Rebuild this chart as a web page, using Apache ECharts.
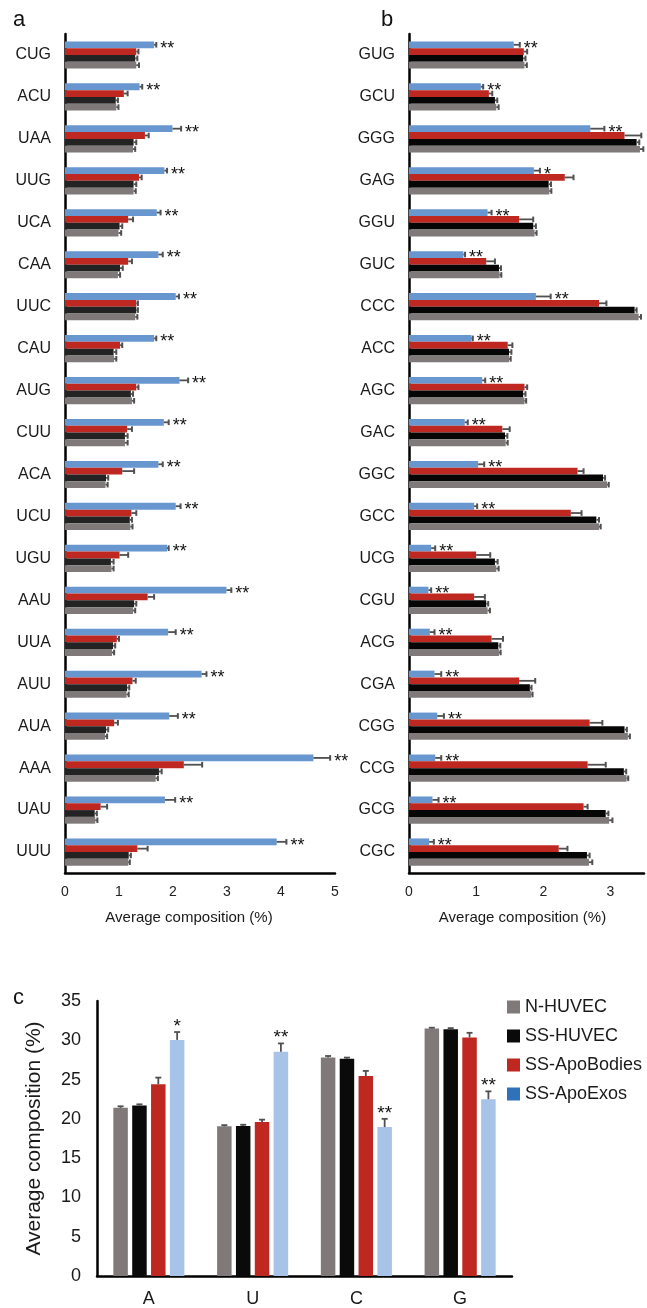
<!DOCTYPE html>
<html>
<head>
<meta charset="utf-8">
<title>Codon composition</title>
<script src="https://cdn.jsdelivr.net/npm/echarts@6/dist/echarts.min.js"></script>
<style>
  html, body { margin: 0; padding: 0; background: #fff; }
  #chart { width: 647px; height: 1308px; }
</style>
</head>
<body>
<div id="chart"></div>
<script>
// ---- panel a (top to bottom) ----
const codonsA = ['CUG', 'ACU', 'UAA', 'UUG', 'UCA', 'CAA', 'UUC', 'CAU', 'AUG', 'CUU',
  'ACA', 'UCU', 'UGU', 'AAU', 'UUA', 'AUU', 'AUA', 'AAA', 'UAU', 'UUU']
const aNormal = [1.32, 0.95, 1.26, 1.27, 0.99, 0.98, 1.30, 0.91, 1.24, 1.11,
  0.75, 1.21, 0.86, 1.26, 0.87, 1.14, 0.74, 1.68, 0.56, 1.17]
const aHuvec = [1.30, 0.94, 1.27, 1.27, 1.01, 1.02, 1.32, 0.90, 1.22, 1.11,
  0.76, 1.20, 0.85, 1.28, 0.89, 1.15, 0.76, 1.74, 0.55, 1.18]
const aBodies = [1.32, 1.09, 1.48, 1.37, 1.17, 1.17, 1.32, 1.02, 1.32, 1.15,
  1.06, 1.23, 1.01, 1.53, 0.96, 1.25, 0.91, 2.20, 0.66, 1.34]
const aExos = [1.65, 1.38, 1.99, 1.84, 1.70, 1.73, 2.05, 1.65, 2.12, 1.83,
  1.73, 2.05, 1.89, 2.99, 1.91, 2.53, 1.93, 4.60, 1.85, 3.92]
const aNormalErr = [0.05, 0.04, 0.04, 0.04, 0.05, 0.04, 0.04, 0.04, 0.04, 0.05,
  0.04, 0.04, 0.04, 0.04, 0.04, 0.04, 0.04, 0.04, 0.04, 0.03]
const aHuvecErr = [0.04, 0.04, 0.05, 0.05, 0.05, 0.05, 0.03, 0.05, 0.04, 0.05,
  0.04, 0.04, 0.05, 0.04, 0.04, 0.04, 0.04, 0.05, 0.04, 0.04]
const aBodiesErr = [0.04, 0.07, 0.07, 0.05, 0.09, 0.07, 0.03, 0.04, 0.04, 0.09,
  0.22, 0.09, 0.16, 0.12, 0.04, 0.06, 0.07, 0.34, 0.12, 0.19]
const aExosErr = [0.04, 0.05, 0.16, 0.05, 0.07, 0.08, 0.06, 0.04, 0.16, 0.09,
  0.08, 0.09, 0.03, 0.09, 0.14, 0.09, 0.16, 0.31, 0.19, 0.18]
const aStars = codonsA.map(() => '**')

// ---- panel b (top to bottom) ----
const codonsB = ['GUG', 'GCU', 'GGG', 'GAG', 'GGU', 'GUC', 'CCC', 'ACC', 'AGC', 'GAC',
  'GGC', 'GCC', 'UCG', 'CGU', 'ACG', 'CGA', 'CGG', 'CCG', 'GCG', 'CGC']
const bNormal = [1.72, 1.30, 3.44, 2.09, 1.87, 1.35, 3.42, 1.49, 1.72, 1.44,
  2.95, 2.83, 1.30, 1.17, 1.34, 1.82, 3.26, 3.24, 2.98, 2.68]
const bHuvec = [1.70, 1.28, 3.39, 2.08, 1.85, 1.34, 3.36, 1.49, 1.70, 1.43,
  2.89, 2.79, 1.28, 1.15, 1.33, 1.80, 3.21, 3.20, 2.93, 2.65]
const bBodies = [1.71, 1.19, 3.21, 2.32, 1.64, 1.15, 2.83, 1.47, 1.72, 1.39,
  2.51, 2.41, 1.00, 0.97, 1.23, 1.64, 2.69, 2.66, 2.60, 2.23]
const bExos = [1.56, 1.07, 2.70, 1.86, 1.17, 0.81, 1.89, 0.93, 1.09, 0.83,
  1.03, 0.97, 0.33, 0.29, 0.31, 0.38, 0.42, 0.39, 0.35, 0.30]
const bNormalErr = [0.035, 0.035, 0.05, 0.03, 0.03, 0.025, 0.035, 0.025, 0.025, 0.03,
  0.025, 0.025, 0.035, 0.035, 0.025, 0.02, 0.03, 0.025, 0.05, 0.05]
const bHuvecErr = [0.035, 0.035, 0.04, 0.035, 0.04, 0.03, 0.03, 0.035, 0.035, 0.035,
  0.03, 0.04, 0.04, 0.03, 0.03, 0.025, 0.035, 0.035, 0.04, 0.04]
const bBodiesErr = [0.05, 0.05, 0.25, 0.13, 0.21, 0.13, 0.11, 0.07, 0.04, 0.11,
  0.09, 0.16, 0.21, 0.16, 0.17, 0.24, 0.19, 0.27, 0.06, 0.13]
const bExosErr = [0.09, 0.035, 0.21, 0.09, 0.06, 0.025, 0.22, 0.02, 0.045, 0.045,
  0.09, 0.045, 0.06, 0.04, 0.07, 0.10, 0.10, 0.09, 0.09, 0.07]
const bStars = ['**', '**', '**', '*', '**', '**', '**', '**', '**', '**',
  '**', '**', '**', '**', '**', '**', '**', '**', '**', '**']

// ---- panel c ----
const bases = ['A', 'U', 'C', 'G']
const cNormal = [21.4, 19.05, 27.8, 31.5]
const cHuvec = [21.7, 19.1, 27.65, 31.4]
const cBodies = [24.4, 19.6, 25.45, 30.35]
const cExos = [30.05, 28.55, 18.95, 22.5]
const cNormalErr = [0.2, 0.15, 0.2, 0.1]
const cHuvecErr = [0.15, 0.15, 0.15, 0.15]
const cBodiesErr = [0.85, 0.3, 0.65, 0.6]
const cExosErr = [1.0, 1.05, 1.05, 1.0]
const cStars = ['*', '**', '**', '**']

const names = ['N-HUVEC', 'SS-HUVEC', 'SS-ApoBodies', 'SS-ApoExos']

const FONT = '"Liberation Sans", Arial, sans-serif'
const GRAY = '#7f7a79'
const RED = '#be2820'
const BLUE = '#6896cf'
const LIGHTBLUE = '#a8c3e8'
const ERR = '#505050'
const BAR_H = 6.8   // horizontal bar thickness (a, b)
const BAR_W = 14.5  // vertical bar width (c)
const GAP_W = BAR_W * 0.3

// error bar (+ stars) for horizontal bars; slot = position from top in the group
function hErr(gi, vals, errs, slot, stars) {
  return {
    type: 'custom',
    xAxisIndex: gi,
    yAxisIndex: gi,
    z: 5,
    clip: false,
    silent: true,
    data: vals.map((v, i) => [v, i, errs[i]]),
    encode: { x: 0, y: 1 },
    renderItem(params, api) {
      const v = api.value(0)
      const i = api.value(1)
      const e = api.value(2)
      const p0 = api.coord([v, i])
      const p1 = api.coord([v + e, i])
      const yc = p0[1] + (slot - 1.5) * BAR_H
      const kids = [
        { type: 'line', shape: { x1: p0[0], y1: yc, x2: p1[0], y2: yc }, style: { stroke: ERR, lineWidth: 1.8 } },
        { type: 'line', shape: { x1: p1[0], y1: yc - BAR_H / 2 + 0.6, x2: p1[0], y2: yc + BAR_H / 2 - 0.6 }, style: { stroke: ERR, lineWidth: 2 } }
      ]
      if (stars) {
        kids.push({
          type: 'text',
          style: { text: stars[params.dataIndex], x: p1[0] + 4, y: yc + 4, verticalAlign: 'middle', font: '18px ' + FONT, fill: '#111' }
        })
      }
      return { type: 'group', children: kids }
    }
  }
}

// error bar (+ stars) for vertical bars in c; slot = position from left
function vErr(vals, errs, slot, stars) {
  return {
    type: 'custom',
    xAxisIndex: 2,
    yAxisIndex: 2,
    z: 5,
    clip: false,
    silent: true,
    data: vals.map((v, i) => [i, v, errs[i]]),
    encode: { x: 0, y: 1 },
    renderItem(params, api) {
      const i = api.value(0)
      const v = api.value(1)
      const e = api.value(2)
      const p0 = api.coord([i, v])
      const p1 = api.coord([i, v + e])
      const total = 4 * BAR_W + 3 * GAP_W
      const xc = p0[0] - total / 2 + slot * (BAR_W + GAP_W) + BAR_W / 2
      const kids = [
        { type: 'line', shape: { x1: xc, y1: p0[1], x2: xc, y2: p1[1] }, style: { stroke: ERR, lineWidth: 1.8 } },
        { type: 'line', shape: { x1: xc - 3, y1: p1[1], x2: xc + 3, y2: p1[1] }, style: { stroke: ERR, lineWidth: 1.8 } }
      ]
      if (stars) {
        kids.push({
          type: 'text',
          style: { text: stars[params.dataIndex], x: xc, y: p1[1] - 5.5, align: 'center', verticalAlign: 'middle', font: '19px ' + FONT, fill: '#111' }
        })
      }
      return { type: 'group', children: kids }
    }
  }
}

function hBar(gi, name, vals, color) {
  return {
    type: 'bar', name: name, xAxisIndex: gi, yAxisIndex: gi,
    data: vals, barWidth: BAR_H, barGap: '0%',
    itemStyle: { color: color }
  }
}

function vBar(name, vals, color) {
  return {
    type: 'bar', name: name, xAxisIndex: 2, yAxisIndex: 2,
    data: vals, barWidth: BAR_W, barGap: '30%',
    itemStyle: { color: color }
  }
}

function codonYAxis(gi, data) {
  return {
    type: 'category', gridIndex: gi, data: data, inverse: true,
    axisLine: { lineStyle: { color: '#000', width: 2.5 } },
    axisTick: { show: false },
    axisLabel: { fontSize: 16, color: '#1a1a1a', margin: 14, fontFamily: FONT }
  }
}

function compXAxis(gi, max, pad) {
  return {
    type: 'value', gridIndex: gi, min: 0, max: max, interval: 1,
    splitLine: { show: false },
    axisLine: { show: true, onZero: false, lineStyle: { color: '#000', width: 2.5 } },
    axisTick: { show: false },
    axisLabel: {
      fontSize: 14, color: '#222', margin: 12, fontFamily: FONT,
      formatter: (v) => (Number.isInteger(v) ? String(v) : '')
    },
    name: 'Average composition (%)',
    nameLocation: 'middle',
    nameGap: 37,
    nameTextStyle: { fontSize: 15, color: '#1a1a1a', fontFamily: FONT, padding: [0, pad, 0, 0] }
  }
}

const chart = echarts.init(document.getElementById('chart'), null, { renderer: 'canvas' })

chart.setOption({
  animation: false,
  backgroundColor: '#fff',
  textStyle: { fontFamily: FONT },
  title: [
    { text: 'a', left: 8, top: 4, textStyle: { fontSize: 22, fontWeight: 'normal', color: '#111', fontFamily: FONT } },
    { text: 'b', left: 376, top: 4, textStyle: { fontSize: 22, fontWeight: 'normal', color: '#111', fontFamily: FONT } },
    { text: 'c', left: 8, top: 982, textStyle: { fontSize: 22, fontWeight: 'normal', color: '#111', fontFamily: FONT } }
  ],
  legend: {
    orient: 'vertical',
    left: 507,
    top: 998,
    padding: 0,
    icon: 'rect',
    itemWidth: 13,
    itemHeight: 13,
    itemGap: 11,
    textStyle: { fontSize: 18, color: '#1a1a1a', fontFamily: FONT },
    data: [
      { name: 'N-HUVEC', itemStyle: { color: GRAY } },
      { name: 'SS-HUVEC', itemStyle: { color: '#0a0a0a' } },
      { name: 'SS-ApoBodies', itemStyle: { color: RED } },
      { name: 'SS-ApoExos', itemStyle: { color: '#2f72ba' } }
    ]
  },
  grid: [
    { left: 65, top: 34, width: 270, height: 839 },
    { left: 409, top: 34, width: 235, height: 839 },
    { left: 97, top: 1001, width: 415, height: 276 }
  ],
  xAxis: [
    compXAxis(0, 5, 22),
    compXAxis(1, 3.5, 8),
    {
      type: 'category', gridIndex: 2, data: bases,
      axisLine: { lineStyle: { color: '#000', width: 2.5 } },
      axisTick: { show: false },
      axisLabel: { fontSize: 18, color: '#1a1a1a', margin: 14, fontFamily: FONT }
    }
  ],
  yAxis: [
    codonYAxis(0, codonsA),
    codonYAxis(1, codonsB),
    {
      type: 'value', gridIndex: 2, min: 0, max: 35, interval: 5,
      splitLine: { show: false },
      axisLine: { show: true, lineStyle: { color: '#000', width: 2.5 } },
      axisTick: { show: false },
      axisLabel: { fontSize: 18, color: '#1a1a1a', margin: 16, fontFamily: FONT },
      name: 'Average composition (%)',
      nameLocation: 'middle',
      nameGap: 52,
      nameTextStyle: { fontSize: 21, color: '#1a1a1a', fontFamily: FONT }
    }
  ],
  series: [
    // panel a: bars listed top-to-bottom within each codon
    hBar(0, names[3], aExos, BLUE),
    hBar(0, names[2], aBodies, RED),
    hBar(0, names[1], aHuvec, '#232323'),
    hBar(0, names[0], aNormal, GRAY),
    hErr(0, aExos, aExosErr, 0, aStars),
    hErr(0, aBodies, aBodiesErr, 1),
    hErr(0, aHuvec, aHuvecErr, 2),
    hErr(0, aNormal, aNormalErr, 3),
    // panel b
    hBar(1, names[3], bExos, BLUE),
    hBar(1, names[2], bBodies, RED),
    hBar(1, names[1], bHuvec, '#060606'),
    hBar(1, names[0], bNormal, GRAY),
    hErr(1, bExos, bExosErr, 0, bStars),
    hErr(1, bBodies, bBodiesErr, 1),
    hErr(1, bHuvec, bHuvecErr, 2),
    hErr(1, bNormal, bNormalErr, 3),
    // panel c
    vBar(names[0], cNormal, GRAY),
    vBar(names[1], cHuvec, '#0a0a0a'),
    vBar(names[2], cBodies, RED),
    vBar(names[3], cExos, LIGHTBLUE),
    vErr(cNormal, cNormalErr, 0),
    vErr(cHuvec, cHuvecErr, 1),
    vErr(cBodies, cBodiesErr, 2),
    vErr(cExos, cExosErr, 3, cStars)
  ]
})
</script>
</body>
</html>
